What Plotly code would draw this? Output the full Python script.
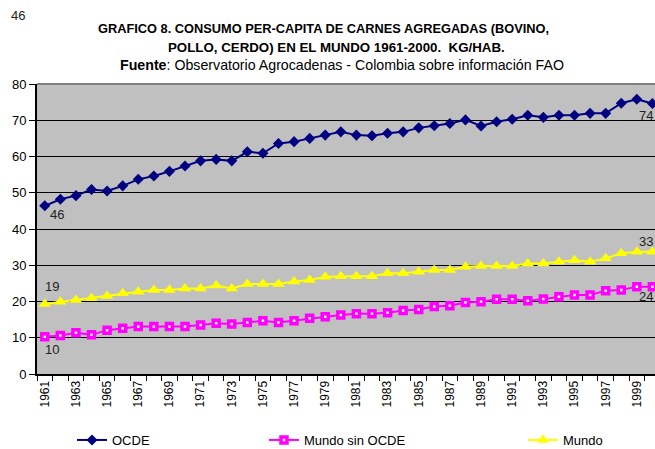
import plotly.graph_objects as go

years = list(range(1961, 2001))
ocde = [46.4, 48.2, 49.2, 50.9, 50.5, 51.9, 53.7, 54.6, 55.9, 57.4, 58.8, 59.2, 58.8,
        61.3, 60.9, 63.6, 64.1, 65.0, 65.9, 66.8, 65.9, 65.7, 66.4, 66.8, 67.9, 68.5,
        69.1, 70.1, 68.4, 69.6, 70.3, 71.4, 70.8, 71.4, 71.4, 71.9, 71.9, 74.7, 75.8, 74.6]
mundo_sin_ocde = [10.3, 10.6, 11.4, 10.8, 12.1, 12.6, 13.1, 13.1, 13.1, 13.1, 13.5, 14.0, 13.8,
                  14.2, 14.7, 14.2, 14.7, 15.4, 15.8, 16.3, 16.6, 16.6, 16.9, 17.5, 17.8, 18.6,
                  18.8, 19.7, 19.9, 20.6, 20.6, 20.2, 20.7, 21.3, 21.8, 21.8, 23.0, 23.2, 24.1, 24.1]
mundo = [19.3, 19.9, 20.4, 20.9, 21.5, 22.3, 22.7, 23.2, 23.2, 23.6, 23.6, 24.4, 23.6,
         24.8, 24.8, 24.8, 25.5, 25.9, 26.8, 27.0, 27.0, 27.0, 27.8, 27.8, 28.2, 28.7,
         28.7, 29.6, 29.8, 29.8, 29.8, 30.5, 30.5, 31.0, 31.4, 31.0, 31.9, 33.3, 33.7, 33.7]
tick_years = list(range(1961, 2000, 2))
y_ticks = list(range(0, 81, 10))

W, H = 655, 449
L, R, T, B = 37, 0, 84, 75
PW, PH = W - L - R, H - T - B


def px(xp):
    return (xp - L) / PW


def py(yp):
    return (H - B - yp) / PH


fig = go.Figure()
fig.add_trace(go.Scatter(x=years, y=ocde, name="OCDE", mode="lines+markers",
                         line=dict(color="#000080", width=2),
                         marker=dict(symbol="diamond", size=8.5, color="#000080"),
                         legend="legend", cliponaxis=False))
fig.add_trace(go.Scatter(x=years, y=mundo_sin_ocde, name="Mundo sin OCDE", mode="lines+markers",
                         line=dict(color="#FF00FF", width=2),
                         marker=dict(symbol="square", size=6, color="white",
                                     line=dict(color="#FF00FF", width=3.5)),
                         legend="legend2", cliponaxis=False))
fig.add_trace(go.Scatter(x=years, y=mundo, name="Mundo", mode="lines+markers",
                         line=dict(color="#FFFF00", width=2),
                         marker=dict(symbol="triangle-up", size=11, color="#FFFF00"),
                         legend="legend3", cliponaxis=False))

lab_font = dict(family="Liberation Sans, Arial", size=13, color="#222222")
labels = [
    (years[0], ocde[0], str(round(ocde[0])), 12, -9),
    (years[0], mundo_sin_ocde[0], str(round(mundo_sin_ocde[0])), 7, -13),
    (years[0], mundo[0], str(round(mundo[0])), 7, 18),
    (years[-1], 74, "74", -6, -10),
    (years[-1], 33, "33", -6, 13),
    (years[-1], 24, "24", -6, -9),
]
for x, y, t, xs, ys in labels:
    fig.add_annotation(x=x, y=y, text=t, showarrow=False, xshift=xs, yshift=ys, font=lab_font)

# stray label at top-left
fig.add_annotation(xref="paper", yref="paper", x=px(18), y=py(15), xanchor="center", yanchor="middle",
                   text="46", showarrow=False, font=lab_font)

tfont = dict(family="Liberation Sans, Arial", size=12.8, color="#000000")
fig.add_annotation(xref="paper", yref="paper", x=px(323), y=py(28), xanchor="center", yanchor="middle",
                   text="<b>GRAFICO 8. CONSUMO PER-CAPITA DE CARNES AGREGADAS (BOVINO,</b>",
                   showarrow=False, font=tfont)
fig.add_annotation(xref="paper", yref="paper", x=px(336), y=py(47), xanchor="center", yanchor="middle",
                   text="<b>POLLO, CERDO) EN EL MUNDO 1961-2000.&nbsp; KG/HAB.</b>",
                   showarrow=False, font=dict(family="Liberation Sans, Arial", size=13.3, color="#000000"))
fig.add_annotation(xref="paper", yref="paper", x=px(342), y=py(65), xanchor="center", yanchor="middle",
                   text="<b>Fuente</b>: Observatorio Agrocadenas - Colombia sobre información FAO",
                   showarrow=False, font=dict(family="Liberation Sans, Arial", size=14.2, color="#000000"))

# top border of plot area
fig.add_shape(type="line", xref="paper", yref="paper", x0=0, x1=1, y0=1, y1=1,
              line=dict(color="#808080", width=2))

leg_common = dict(orientation="h", xref="container", yref="container", xanchor="left", yanchor="middle",
                  bgcolor="rgba(0,0,0,0)", font=dict(family="Liberation Sans, Arial", size=13, color="#000000"),
                  itemwidth=30)
ly = 1 - 440 / H
fig.update_layout(
    width=W, height=H,
    margin=dict(l=L, r=R, t=T, b=B),
    paper_bgcolor="white", plot_bgcolor="#C0C0C0",
    showlegend=True,
    legend=dict(x=72 / W, y=ly, **leg_common),
    legend2=dict(x=264 / W, y=ly, **leg_common),
    legend3=dict(x=523 / W, y=ly, **leg_common),
    xaxis=dict(range=[1960.5, 1960.5 + PW / 15.58], tickvals=tick_years,
               ticktext=[str(y) for y in tick_years], tickangle=-90, ticks="",
               tickfont=dict(family="Liberation Sans, Arial", size=12, color="#000000"),
               showgrid=False, zeroline=False, showline=True, linecolor="black", linewidth=2,
               minor=dict(tick0=1960.5, dtick=1, ticks="outside", ticklen=5, tickcolor="black",
                          tickwidth=1, showgrid=False)),
    yaxis=dict(range=[0, 80], tickvals=y_ticks, ticks="outside", ticklen=6, tickcolor="black",
               tickfont=dict(family="Liberation Sans, Arial", size=13, color="#000000"),
               showgrid=True, gridcolor="black", gridwidth=1, zeroline=False,
               showline=True, linecolor="black", linewidth=2),
)
fig.write_html("out.html", config={"displayModeBar": False},
               post_script="document.body.style.margin='0';document.body.style.overflow='hidden';")
